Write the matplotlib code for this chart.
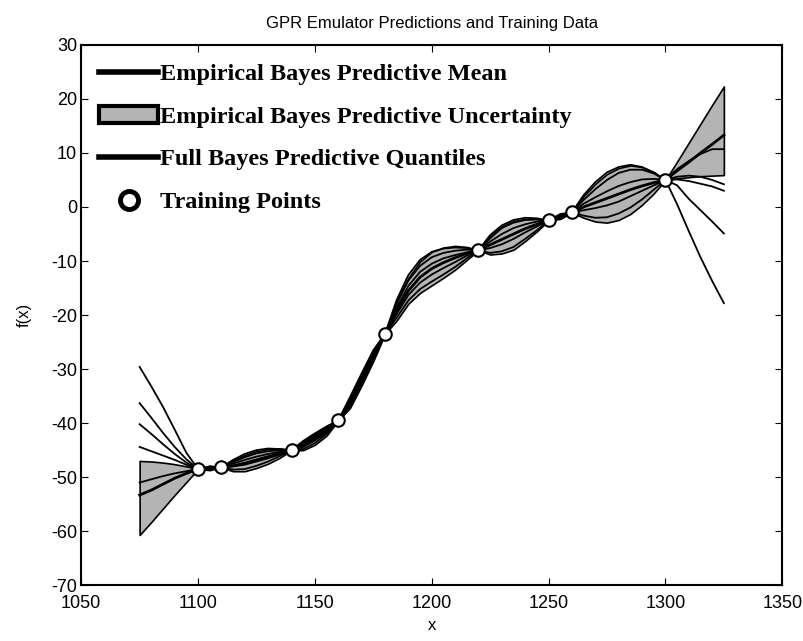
import numpy as np
import matplotlib
matplotlib.use('Agg')
import matplotlib.pyplot as plt
from matplotlib.lines import Line2D
from matplotlib.patches import Patch

# prediction grid
x = np.arange(1075, 1326, 5)

eb_mean = [-53.3, -52.4, -51.3, -50.2, -49.3, -48.5, -48.3, -48.2, -47.9, -47.4,
           -46.8, -46.2, -45.6, -45.0, -44.2, -43.0, -41.5, -39.5, -36.3, -32.0,
           -27.6, -23.5, -19.2, -15.5, -13.0, -11.4, -10.3, -9.4, -8.6, -8.0,
           -7.0, -6.0, -5.0, -4.0, -3.2, -2.5, -1.8, -1.0, 0.0, 0.8,
           1.6, 2.4, 3.2, 3.9, 4.5, 5.0, 6.7, 8.3, 10.0, 11.6, 13.3]
eb_lo = [-60.7, -58.3, -55.8, -53.3, -50.9, -48.5, -48.7, -48.2, -48.9, -48.9,
         -48.3, -47.5, -46.4, -45.0, -45.0, -44.0, -42.3, -39.5, -37.2, -33.0,
         -28.5, -23.5, -21.0, -17.9, -15.9, -14.5, -13.1, -11.6, -9.8, -8.0,
         -8.8, -8.6, -7.9, -6.3, -4.5, -2.5, -2.2, -1.0, -2.0, -2.7,
         -2.9, -2.4, -1.3, 0.4, 2.5, 5.0, 5.3, 5.5, 5.7, 5.8, 5.9]
eb_hi = [-47.0, -47.1, -47.3, -47.6, -48.0, -48.5, -47.9, -48.2, -46.9, -45.9,
         -45.2, -44.8, -44.7, -45.0, -43.4, -42.0, -40.7, -39.5, -35.4, -31.0,
         -26.7, -23.5, -17.4, -13.1, -10.1, -8.3, -7.5, -7.2, -7.4, -8.0,
         -5.2, -3.6, -2.6, -2.2, -2.2, -2.5, -1.4, -1.0, 2.0, 4.3,
         6.1, 7.2, 7.7, 7.4, 6.5, 5.0, 8.4, 11.9, 15.4, 18.9, 22.3]

# full Bayes predictive quantiles
fb_q1 = [-51.0, -50.4, -49.8, -49.3, -48.9, -48.5, -48.5, -48.2, -48.6, -48.5,
         -47.9, -47.1, -46.1, -45.0, -44.8, -43.7, -42.0, -39.5, -36.9, -32.7,
         -28.2, -23.5, -20.5, -17.3, -15.2, -13.8, -12.5, -11.1, -9.5, -8.0,
         -8.5, -8.2, -7.4, -5.9, -4.3, -2.5, -2.1, -1.0, -1.6, -2.0,
         -1.9, -1.2, -0.1, 1.4, 3.2, 5.0, 0.5, -4.5, -9.3, -13.7, -17.8]
fb_q2 = [-44.4, -45.2, -46.0, -46.8, -47.7, -48.5, -48.4, -48.2, -48.0, -47.7,
         -47.1, -46.5, -45.8, -45.0, -44.4, -43.2, -41.7, -39.5, -36.5, -32.2,
         -27.8, -23.5, -19.8, -16.3, -14.0, -12.5, -11.3, -10.2, -9.0, -8.0,
         -7.6, -6.9, -5.9, -4.7, -3.6, -2.5, -1.9, -1.0, -0.6, -0.2,
         0.3, 1.0, 2.0, 3.0, 4.0, 5.0, 4.0, 1.5, -0.6, -2.7, -4.9]
fb_q3 = [-40.2, -42.0, -43.9, -45.7, -47.3, -48.5, -48.2, -48.2, -47.5, -46.8,
         -46.2, -45.7, -45.3, -45.0, -43.9, -42.6, -41.2, -39.5, -35.9, -31.6,
         -27.2, -23.5, -18.6, -14.6, -12.0, -10.5, -9.5, -8.9, -8.4, -8.0,
         -6.4, -5.0, -3.9, -3.2, -2.7, -2.5, -1.7, -1.0, 0.6, 1.8,
         2.9, 3.9, 4.6, 5.1, 5.2, 5.0, 5.1, 4.8, 4.3, 3.8, 3.0]
fb_q4 = [-36.3, -39.0, -41.8, -44.4, -46.7, -48.5, -48.1, -48.2, -47.2, -46.3,
         -45.6, -45.2, -45.0, -45.0, -43.6, -42.3, -40.9, -39.5, -35.6, -31.3,
         -26.9, -23.5, -17.9, -13.6, -10.9, -9.3, -8.5, -8.1, -7.9, -8.0,
         -5.8, -3.9, -2.9, -2.4, -2.3, -2.5, -1.5, -1.0, 1.3, 3.3,
         5.0, 6.3, 6.9, 6.9, 6.2, 5.0, 5.6, 5.8, 5.6, 5.0, 4.2]
fb_q5 = [-29.6, -33.2, -37.0, -41.2, -45.5, -48.5, -48.0, -48.2, -46.8, -45.7,
         -45.0, -44.7, -44.8, -45.0, -43.3, -41.9, -40.6, -39.5, -35.2, -30.8,
         -26.5, -23.5, -17.2, -12.6, -9.8, -8.3, -7.7, -7.5, -7.6, -8.0,
         -5.2, -3.4, -2.4, -2.0, -2.1, -2.5, -1.3, -1.0, 2.2, 4.6,
         6.4, 7.4, 7.8, 7.4, 6.3, 5.0, 7.0, 8.5, 9.8, 10.7, 10.7]

# training data
train_x = [1100, 1110, 1140, 1160, 1180, 1220, 1250, 1260, 1300]
train_y = [-48.5, -48.2, -45.0, -39.5, -23.5, -8.0, -2.5, -1.0, 5.0]

plt.rcParams['font.family'] = ['Liberation Sans', 'DejaVu Sans']
plt.rcParams['axes.unicode_minus'] = False

fig = plt.figure(figsize=(8.04, 6.41), dpi=100)
ax = fig.add_axes([0.101, 0.087, 0.872, 0.843])

ax.fill_between(x, eb_lo, eb_hi, facecolor='#b4b4b4', edgecolor='k', lw=1.2)
for q in [fb_q1, fb_q2, fb_q3, fb_q4, fb_q5]:
    ax.plot(x, q, color='k', lw=1.3)
ax.plot(x, eb_mean, color='k', lw=2.0)
ax.plot(train_x, train_y, 'o', mfc='white', mec='k', ms=9, mew=1.5)

ax.set_xlim(1050, 1350)
ax.set_ylim(-70, 30)
ax.set_xticks(np.arange(1050, 1351, 50))
ax.set_yticks(np.arange(-70, 31, 10))
ax.tick_params(direction='in', top=True, right=True, length=5, labelsize=13)
ax.tick_params(axis='x', pad=7)
ax.tick_params(axis='y', pad=3)
for s in ax.spines.values():
    s.set_linewidth(1.5)

ax.set_title('GPR Emulator Predictions and Training Data', fontsize=12, pad=12)
ax.set_xlabel('x', fontsize=12, labelpad=4)
ax.set_ylabel('f(x)', fontsize=12, labelpad=14)

handles = [
    Line2D([], [], color='k', lw=4),
    Patch(facecolor='#b4b4b4', edgecolor='k', lw=3),
    Line2D([], [], color='k', lw=4),
    Line2D([], [], ls='', marker='o', mfc='white', mec='k', ms=13, mew=3.5),
]
labels = ['Empirical Bayes Predictive Mean', 'Empirical Bayes Predictive Uncertainty',
          'Full Bayes Predictive Quantiles', 'Training Points']
ax.legend(handles, labels, loc='upper left', frameon=False, handlelength=2.4,
          handletextpad=0.1, labelspacing=0.85, borderaxespad=0.35,
          prop={'family': 'Liberation Serif', 'weight': 'bold', 'size': 17.5})

plt.savefig('out.png', dpi=100)
